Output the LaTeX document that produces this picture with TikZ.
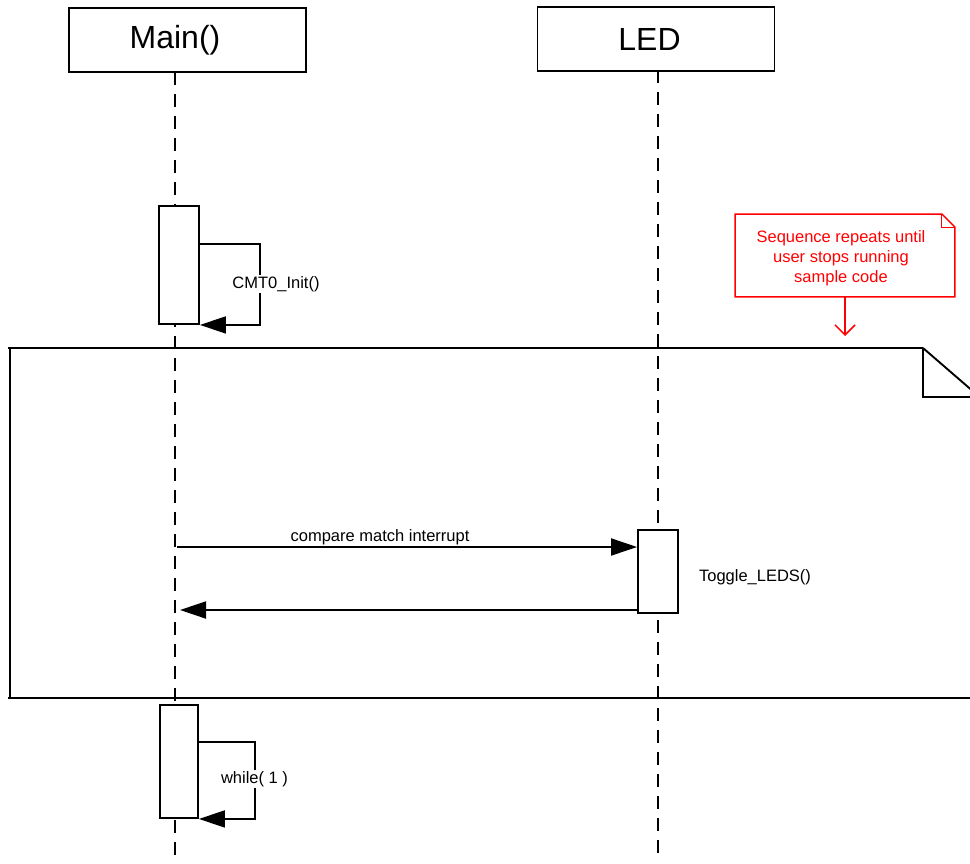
\documentclass[tikz,border=0pt]{standalone}
\usepackage{fontspec}
\setmainfont{Liberation Sans}
\usetikzlibrary{arrows.meta}

\begin{document}
\begin{tikzpicture}[x=1pt,y=-1pt,line width=1.9pt,
	actor/.style={rectangle,draw,minimum width=237pt,minimum height=64pt,inner sep=0pt},
	actortext/.style={font=\fontsize{32}{36}\selectfont,inner sep=0pt},
	activation/.style={rectangle,draw,fill=white,minimum width=40pt,inner sep=0pt},
	lifeline/.style={dash pattern=on 13pt off 9pt},
	msg/.style={-{Triangle[length=26pt,width=17pt]}},
	msglabel/.style={font=\fontsize{16.5}{18}\selectfont,fill=white,inner sep=1pt},
	notebox/.style={red,line width=1.5pt},
	notetext/.style={font=\fontsize{16.5}{20}\selectfont,text=red,align=center,inner sep=0pt}]
		\useasboundingbox (0,0) rectangle (970,863);
		\clip (0,0) rectangle (970,863);
%		\draw[help lines,step=50] (0,0) grid (970,863);
		\path (175,72) coordinate (main_top);
		\path (175,855) coordinate (main_end);
		\path (658,70) coordinate (led_top);
		\path (658,858) coordinate (led_end);

		\path (177,547) coordinate (irq_start);
		\path (180,610) coordinate (ret_end);
		\path (845,336) coordinate (note_tip);

		% lifelines
		\draw[lifeline] (main_top) -- (main_end);
		\draw[lifeline] (led_top) -- (led_end);

		% actors
		\node[actor] (main) at (187.5,40) {};
		\node[actortext] (main_txt) at (175,40) {Main()};
		\node[actor] (led) at (656,39) {};
		\node[actortext] (led_txt) at (649.5,39) {LED};

		% init
		\node[activation,minimum height=118pt] (act_init) at (179,265) {};
		\path (act_init.north east) +(0,39) coordinate (init_out);
		\draw[msg] (init_out) -- ++(60,0) |- (act_init.south east);
		\node[msglabel] (init_lbl) at (276,284) {CMT0\_Init()};

		% loop frame
		\draw (10,349) -- (10,698);
		\draw (923,348) -- (8,348);
		\draw (923,348) -- (923,397) -- (975,397);
		\draw (923,348) -- (975,393);
		\draw (8,698) -- (975,698);

		% note
		\node[minimum width=218pt,minimum height=81pt,inner sep=0pt] (note) at (845,255.5) {};
		\node[notetext] (note_txt) at (841,258.5) {Sequence repeats until\\user stops running\\sample code};
		\draw[notebox] (note.south west) -- (note.north west) -- ([xshift=-13pt]note.north east)
			-- ([yshift=-13pt]note.north east) -- (note.south east) -- cycle;
		\draw[notebox,line width=1pt] ([xshift=-13pt]note.north east) -- ([xshift=-13pt,yshift=-13pt]note.north east)
			-- ([yshift=-13pt]note.north east);
		\draw[notebox,-{Straight Barb[length=10pt,width=20pt]}] (note.south) -- (note_tip);

		% interrupt
		\node[activation,minimum height=83pt] (act_led) at (658,571.5) {};
		\draw[msg] (irq_start) -- (irq_start -| act_led.west);
		\node[msglabel,fill=none] (irq_lbl) at (380,537) {compare match interrupt};
		\draw[msg] (ret_end -| act_led.west) -- (ret_end);
		\node[msglabel] (toggle_lbl) at (755,577) {Toggle\_LEDS()};

		% while
		\node[activation,minimum width=38pt,minimum height=113pt] (act_while) at (179,761.5) {};
		\path (act_while.north east) +(0,38) coordinate (while_out);
		\draw[msg] (while_out) -- ++(56,0) |- (act_while.south east);
		\node[msglabel] (while_lbl) at (254.5,779) {while( 1 )};
	\end{tikzpicture}
\end{document}
